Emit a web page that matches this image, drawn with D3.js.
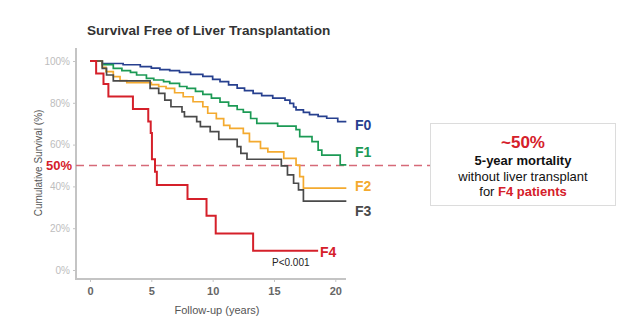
<!DOCTYPE html>
<html>
<head>
<meta charset="utf-8">
<script src="https://cdn.jsdelivr.net/npm/d3@7"></script>
<style>
  body { margin: 0; background: #fff; }
  svg { font-family: "Liberation Sans", Arial, sans-serif; display: block; }
</style>
</head>
<body>
<div id="chart"></div>
<script>
const width = 640;
const height = 326;

// Kaplan-Meier steps per fibrosis stage: [years, survival %]
const F0 = [[0,100],[1.0,98.8],[2.7,98.2],[4.1,97.3],[5.0,96.6],[5.7,95.9],[6.5,95.4],[7.3,94.6],[8.2,93.6],[9.2,92.6],[10.0,91.2],[10.6,90.1],[11.3,88.6],[12.0,87.0],[12.6,85.8],[13.3,84.5],[14.0,83.4],[14.9,82.2],[15.9,81.3],[16.3,79.7],[16.6,78.0],[16.8,76.6],[17.4,75.4],[17.9,74.3],[18.6,73.5],[19.3,72.6],[20.2,71.0],[20.9,71.0]];
const F1 = [[0,100],[1.0,98.3],[1.9,96.5],[2.6,95.4],[3.3,94.6],[3.8,93.3],[4.6,91.7],[5.2,90.9],[6.0,90.1],[6.5,89.3],[7.3,87.8],[7.9,86.9],[8.6,85.5],[9.2,84.0],[9.9,82.2],[10.6,80.3],[11.3,78.5],[12.0,76.8],[12.5,75.5],[13.1,72.5],[13.6,70.2],[15.3,68.8],[16.8,67.2],[17.1,63.8],[18.1,61.4],[18.6,57.4],[18.9,55.0],[20.4,50.3],[20.9,50.3]];
const F2 = [[0,100],[1.0,97.0],[1.3,94.9],[1.9,92.5],[2.45,90.6],[3.0,89.7],[5.0,88.7],[5.6,87.8],[6.2,86.9],[6.9,84.8],[7.6,82.9],[8.4,80.5],[9.2,78.1],[9.6,75.0],[10.3,72.4],[10.9,69.2],[11.4,67.8],[12.5,65.4],[13.0,61.4],[13.9,58.2],[14.5,56.5],[15.8,53.4],[16.8,50.2],[17.1,44.7],[17.4,39.2],[20.9,39.2]];
const F3 = [[0,100],[1.0,96.5],[1.35,93.3],[1.9,90.5],[4.9,86.9],[5.6,84.5],[6.1,81.3],[6.6,78.1],[7.5,75.7],[7.7,73.4],[8.7,71.0],[9.0,68.6],[9.8,66.2],[10.5,62.5],[12.0,59.0],[12.3,55.8],[12.8,53.0],[15.6,49.8],[16.1,45.5],[16.6,41.5],[17.0,38.3],[17.4,33.0],[20.9,33.0]];
const F4 = [[0,100],[0.5,94],[1.1,89],[1.5,83],[3.5,77],[4.75,71],[4.95,65.5],[5.05,53],[5.3,47],[5.45,40.7],[7.95,34],[9.5,26],[10.25,17.5],[13.3,9.2],[18.6,9.2]];

const groups = ["F0", "F1", "F2", "F3", "F4"];
const series = [F0, F1, F2, F3, F4];
const colors = ["#27408f", "#1c9a55", "#f4aa2f", "#4a4a4a", "#d5202a"];
const labelPos = [[355, 125], [355, 152], [355, 186], [355, 211], [320, 252]];

const xTicks = [0, 5, 10, 15, 20];
const yTicks = [0, 20, 40, 60, 80, 100];
const threshold = 50;

const svg = d3.select("#chart")
    .append("svg")
    .attr("width", width)
    .attr("height", height);

const x = d3.scaleLinear().domain([0, 20]).range([90, 335.3]);
const y = d3.scaleLinear().domain([0, 100]).range([270, 61]);

// title
svg.append("text")
    .attr("x", 87).attr("y", 35)
    .attr("font-size", 13.6).attr("font-weight", "bold")
    .attr("fill", "#333")
    .text("Survival Free of Liver Transplantation");

// axes
const axisColor = "#c4c4c4";
svg.append("line")
    .attr("x1", 76).attr("x2", 76).attr("y1", 48).attr("y2", 279)
    .attr("stroke", axisColor).attr("stroke-width", 2);
svg.append("line")
    .attr("x1", 75).attr("x2", 346).attr("y1", 279).attr("y2", 279)
    .attr("stroke", axisColor).attr("stroke-width", 2);

const yAxis = svg.append("g")
    .attr("transform", "translate(76,0)")
    .call(d3.axisLeft(y).tickValues(yTicks).tickSize(3).tickFormat(d => d + "%"));
yAxis.select(".domain").remove();
yAxis.selectAll("line").attr("stroke", axisColor);
yAxis.selectAll("text")
    .attr("fill", "#bdbdbd").attr("font-size", 10)
    .attr("font-family", "Liberation Sans, Arial, sans-serif");

const xAxis = svg.append("g")
    .attr("transform", "translate(0,279)")
    .call(d3.axisBottom(x).tickValues(xTicks).tickSize(3));
xAxis.select(".domain").remove();
xAxis.selectAll("line").attr("stroke", axisColor);
xAxis.selectAll("text")
    .attr("fill", "#666").attr("font-size", 11).attr("font-weight", "bold")
    .attr("y", 8).attr("dy", "0.71em")
    .attr("font-family", "Liberation Sans, Arial, sans-serif");

svg.append("text")
    .attr("x", 217).attr("y", 314)
    .attr("text-anchor", "middle")
    .attr("font-size", 11).attr("fill", "#555")
    .text("Follow-up (years)");

svg.append("text")
    .attr("transform", "translate(42,163) rotate(-90)")
    .attr("text-anchor", "middle")
    .attr("font-size", 10).attr("fill", "#555")
    .text("Cumulative Survival (%)");

// 50% reference line
svg.append("line")
    .attr("x1", 76).attr("x2", 430)
    .attr("y1", y(threshold)).attr("y2", y(threshold))
    .attr("stroke", "#d66a78").attr("stroke-width", 1.4)
    .attr("stroke-dasharray", "8,5");
svg.append("text")
    .attr("x", 72).attr("y", y(threshold) + 4.5)
    .attr("text-anchor", "end")
    .attr("font-size", 13).attr("font-weight", "bold")
    .attr("fill", "#d5202a")
    .text(threshold + "%");

// survival curves
const line = d3.line()
    .x(d => x(d[0]))
    .y(d => y(d[1]))
    .curve(d3.curveStepAfter);

series.forEach((s, i) => {
    svg.append("path")
        .datum(s)
        .attr("fill", "none")
        .attr("stroke", colors[i])
        .attr("stroke-width", i === 4 ? 2 : 1.7)
        .attr("d", line);
    svg.append("text")
        .attr("x", labelPos[i][0]).attr("y", labelPos[i][1] + 5)
        .attr("font-size", 14).attr("font-weight", "bold")
        .attr("fill", colors[i])
        .text(groups[i]);
});

svg.append("text")
    .attr("x", 272).attr("y", 266)
    .attr("font-size", 10).attr("fill", "#222")
    .text("P<0.001");

// callout box
const box = svg.append("g");
box.append("rect")
    .attr("x", 430.5).attr("y", 123.5).attr("width", 185).attr("height", 82)
    .attr("fill", "#fff").attr("stroke", "#dcdcdc").attr("stroke-width", 1);
box.append("text")
    .attr("x", 523).attr("y", 148)
    .attr("text-anchor", "middle")
    .attr("font-size", 17).attr("font-weight", "bold").attr("fill", "#d5202a")
    .text("~50%");
box.append("text")
    .attr("x", 523).attr("y", 165)
    .attr("text-anchor", "middle")
    .attr("font-size", 13).attr("font-weight", "bold").attr("fill", "#111")
    .text("5-year mortality");
box.append("text")
    .attr("x", 523).attr("y", 181)
    .attr("text-anchor", "middle")
    .attr("font-size", 13).attr("fill", "#111")
    .text("without liver transplant");
const last = box.append("text")
    .attr("x", 523).attr("y", 196)
    .attr("text-anchor", "middle")
    .attr("font-size", 13).attr("fill", "#111");
last.append("tspan").text("for ");
last.append("tspan").attr("font-weight", "bold").attr("fill", "#d5202a").text("F4 patients");
</script>
</body>
</html>
